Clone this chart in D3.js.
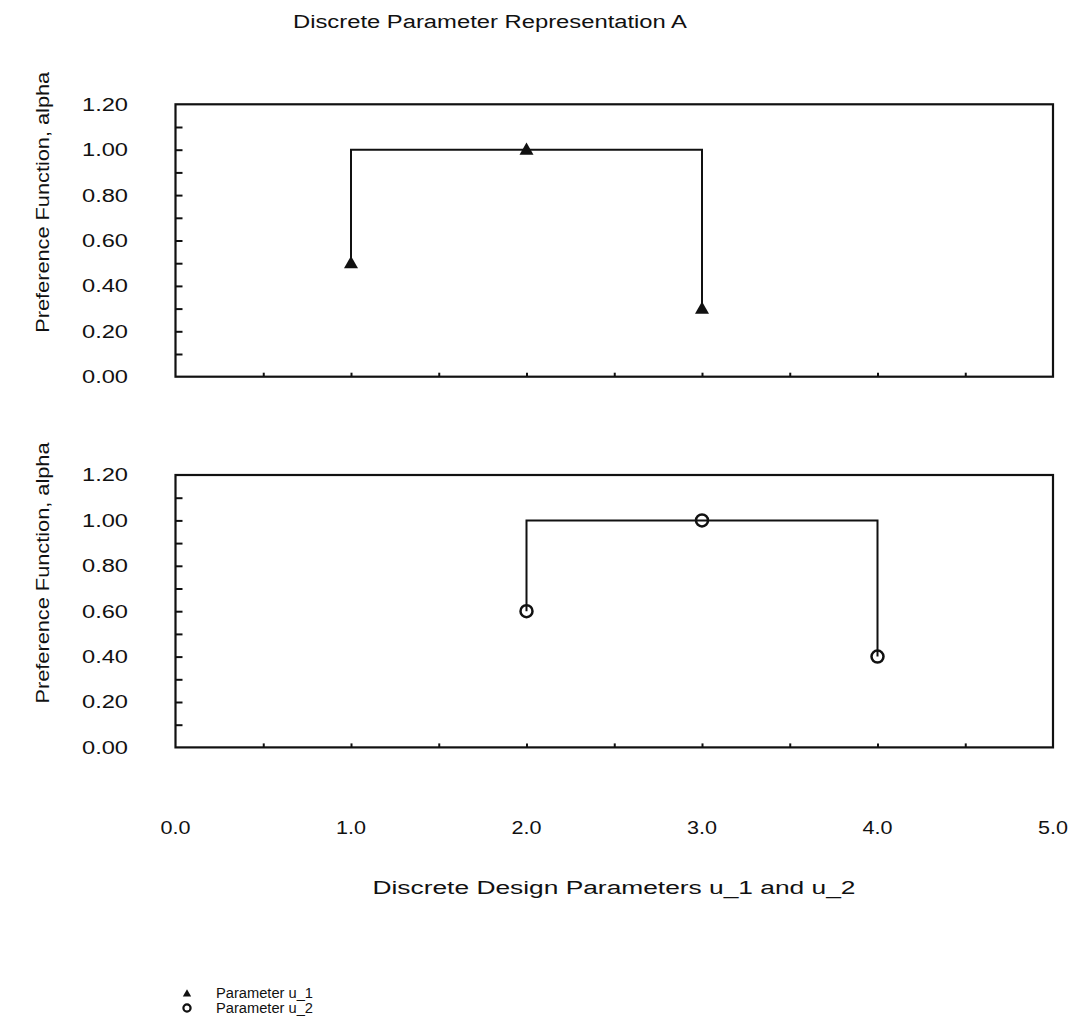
<!DOCTYPE html>
<html lang="en">
<head>
<meta charset="utf-8">
<title>Discrete Parameter Representation A</title>
<script src="https://d3js.org/d3.v7.min.js"></script>
<style>
  body { margin: 0; background: #fff; }
  svg text { font-family: "Liberation Sans", Arial, Helvetica, sans-serif; fill: #111; }
</style>
</head>
<body>
<script>
// values
var titleText = "Discrete Parameter Representation A";
var yTitle = "Preference Function, alpha";
var xTitle = "Discrete Design Parameters u_1 and u_2";
var xLabelTicks = [0, 1, 2, 3, 4, 5];
var xMinorTicks = [0.5, 1, 1.5, 2, 2.5, 3, 3.5, 4, 4.5];
var yLabelTicks = [0, 0.2, 0.4, 0.6, 0.8, 1.0, 1.2];
var yMinorTicks = [0.1, 0.2, 0.3, 0.4, 0.5, 0.6, 0.7, 0.8, 0.9, 1.0, 1.1];
var u1X = [1, 2, 3];
var u1Y = [0.5, 1.0, 0.3];
var u2X = [2, 3, 4];
var u2Y = [0.6, 1.0, 0.4];
var seriesNames = ["Parameter u_1", "Parameter u_2"];

var W = 1077, H = 1018;
var left = 175.5, right = 1053, panelH = 272.4;
var panelTops = [104.3, 475];
var fs = 18;

var svg = d3.select("body").append("svg").attr("width", W).attr("height", H);

var x = d3.scaleLinear().domain([0, 5]).range([left, right]);

// stretch text to the wide lettering of the original
function fit(sel, w) {
  sel.attr("textLength", w).attr("lengthAdjust", "spacingAndGlyphs");
}

svg.append("text")
  .attr("x", 490).attr("y", 28)
  .attr("text-anchor", "middle")
  .style("font-size", fs + "px")
  .text(titleText)
  .call(fit, 394);

var panels = [
  { xs: u1X, ys: u1Y, marker: "tri" },
  { xs: u2X, ys: u2Y, marker: "circ" }
];

panels.forEach(function (p, k) {
  var top = panelTops[k];
  var y = d3.scaleLinear().domain([0, 1.2]).range([top + panelH, top]);
  var g = svg.append("g");

  // inward ticks on the left side
  g.append("g")
    .attr("transform", "translate(" + left + ",0)")
    .call(d3.axisRight(y).tickValues(yMinorTicks).tickSize(7).tickFormat(""))
    .call(function (a) { a.select(".domain").remove(); a.selectAll("line").attr("stroke", "#111").attr("stroke-width", 2); });

  // tick labels
  g.selectAll(".ylab").data(yLabelTicks).enter().append("text")
    .attr("class", "ylab")
    .attr("x", 128).attr("y", function (d) { return y(d); })
    .attr("dy", "0.36em")
    .attr("text-anchor", "end")
    .style("font-size", fs + "px")
    .text(d3.format(".2f"))
    .call(fit, 46);

  // inward ticks on the bottom
  g.append("g")
    .attr("transform", "translate(0," + (top + panelH) + ")")
    .call(d3.axisTop(x).tickValues(xMinorTicks).tickSize(4).tickFormat(""))
    .call(function (a) { a.select(".domain").remove(); a.selectAll("line").attr("stroke", "#111").attr("stroke-width", 2); });

  // frame
  g.append("rect")
    .attr("x", left).attr("y", top)
    .attr("width", right - left).attr("height", panelH)
    .attr("fill", "none").attr("stroke", "#111").attr("stroke-width", 2.2);

  // y title
  g.append("text")
    .attr("transform", "translate(49," + (top + 98) + ")rotate(-90)")
    .attr("text-anchor", "middle")
    .style("font-size", fs + "px")
    .text(yTitle)
    .call(fit, 261);

  // stepped connector through the peak
  var yMax = d3.max(p.ys);
  var n = p.xs.length - 1;
  var path = d3.path();
  path.moveTo(x(p.xs[0]), y(p.ys[0]));
  path.lineTo(x(p.xs[0]), y(yMax));
  path.lineTo(x(p.xs[n]), y(yMax));
  path.lineTo(x(p.xs[n]), y(p.ys[n]));
  g.append("path").attr("d", path.toString())
    .attr("fill", "none").attr("stroke", "#111").attr("stroke-width", 2);

  var pts = p.xs.map(function (v, i) { return [v, p.ys[i]]; });
  if (p.marker === "tri") {
    g.selectAll(".pt").data(pts).enter().append("path")
      .attr("class", "pt")
      .attr("transform", function (d) { return "translate(" + x(d[0]) + "," + (y(d[1]) + 1) + ")"; })
      .attr("d", d3.symbol().type(d3.symbolTriangle).size(85))
      .attr("fill", "#111");
  } else {
    g.selectAll(".pt").data(pts).enter().append("circle")
      .attr("class", "pt")
      .attr("cx", function (d) { return x(d[0]); })
      .attr("cy", function (d) { return y(d[1]); })
      .attr("r", 6)
      .attr("fill", "none").attr("stroke", "#111").attr("stroke-width", 2.5);
  }
});

// x tick labels under the lower panel
svg.selectAll(".xlab").data(xLabelTicks).enter().append("text")
  .attr("class", "xlab")
  .attr("x", function (d) { return x(d); })
  .attr("y", 834)
  .attr("text-anchor", "middle")
  .style("font-size", fs + "px")
  .text(d3.format(".1f"))
  .call(fit, 30);

svg.append("text")
  .attr("x", 614).attr("y", 894)
  .attr("text-anchor", "middle")
  .style("font-size", fs + "px")
  .text(xTitle)
  .call(fit, 483);

// legend
var leg = svg.append("g");
var rowY = [998, 1013];
leg.append("path")
  .attr("transform", "translate(187," + (rowY[0] - 4) + ")")
  .attr("d", d3.symbol().type(d3.symbolTriangle).size(30))
  .attr("fill", "#111");
leg.append("circle")
  .attr("cx", 187).attr("cy", rowY[1] - 5).attr("r", 3.6)
  .attr("fill", "none").attr("stroke", "#111").attr("stroke-width", 2.2);
leg.selectAll(".legtxt").data(seriesNames).enter().append("text")
  .attr("class", "legtxt")
  .attr("x", 216).attr("y", function (d, i) { return rowY[i]; })
  .style("font-size", "14px")
  .text(function (d) { return d; })
  .call(fit, 97);
</script>
</body>
</html>
